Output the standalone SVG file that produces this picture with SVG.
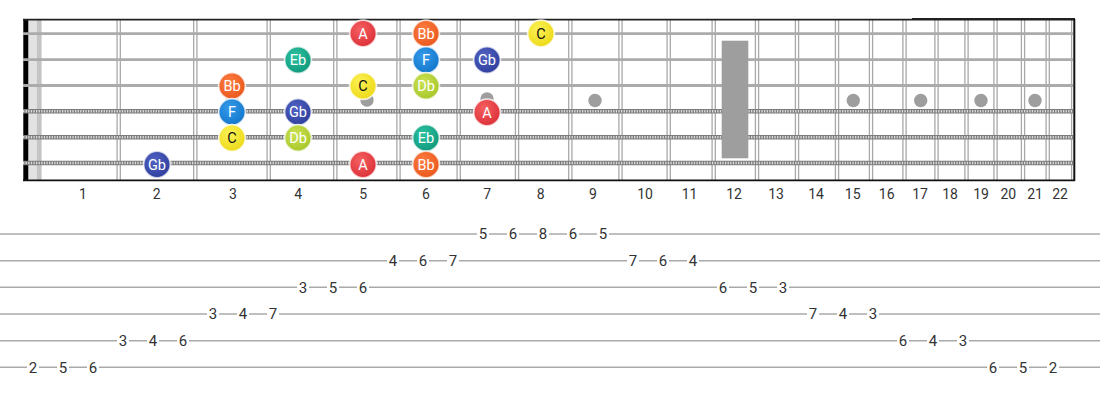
<svg xmlns="http://www.w3.org/2000/svg" width="1100" height="400" viewBox="0 0 1100 400">
<style>
.fw{stroke:#a8a8a8;stroke-width:1.3}
.ps{stroke:#ababab;stroke-width:2.8}
.w1{stroke:#7c7c7c;stroke-width:4.4}
.w2{stroke:#dcdcdc;stroke-width:2.4;stroke-dasharray:1.3 1.3}
.dot{fill:#9e9e9e}
.fn{font-family:Roboto,"Liberation Sans",sans-serif;font-size:14px;fill:#333;text-anchor:middle}
.nt{font-family:Roboto,"Liberation Sans",sans-serif;font-size:14.5px;fill:#fff;text-anchor:middle}
.nt.dk{fill:#111}
.nc{stroke:#fff;stroke-opacity:0.75;stroke-width:1.8}
.tl{stroke:#aaa;stroke-width:1.5}
.tb{fill:#fff}
.tn{font-family:Roboto,"Liberation Sans",sans-serif;font-size:15px;fill:#333;text-anchor:middle}
</style>
<defs>
<radialGradient id="gA" cx="0.4" cy="0.35" r="0.7"><stop offset="0" stop-color="#f56060"/><stop offset="1" stop-color="#db2e37"/></radialGradient>
<radialGradient id="gBb" cx="0.4" cy="0.35" r="0.7"><stop offset="0" stop-color="#fc7d40"/><stop offset="1" stop-color="#e9561c"/></radialGradient>
<radialGradient id="gC" cx="0.4" cy="0.35" r="0.7"><stop offset="0" stop-color="#fcf256"/><stop offset="1" stop-color="#ecd814"/></radialGradient>
<radialGradient id="gDb" cx="0.4" cy="0.35" r="0.7"><stop offset="0" stop-color="#cbe251"/><stop offset="1" stop-color="#a6c62a"/></radialGradient>
<radialGradient id="gEb" cx="0.4" cy="0.35" r="0.7"><stop offset="0" stop-color="#2cc2a0"/><stop offset="1" stop-color="#0f977b"/></radialGradient>
<radialGradient id="gF" cx="0.4" cy="0.35" r="0.7"><stop offset="0" stop-color="#359aea"/><stop offset="1" stop-color="#1176ca"/></radialGradient>
<radialGradient id="gGb" cx="0.4" cy="0.35" r="0.7"><stop offset="0" stop-color="#5163c3"/><stop offset="1" stop-color="#2e3d9c"/></radialGradient>
</defs>
<rect width="1100" height="400" fill="#fff"/>
<g id="fretboard">
<rect x="28.3" y="20" width="8.5" height="160" fill="#e2e2e2"/>
<rect x="36.8" y="20" width="4.8" height="160" fill="#c4c4c4"/>
<g id="frets">
<line class="fw" x1="117.1" y1="20" x2="117.1" y2="180"/><line class="fw" x1="120.3" y1="20" x2="120.3" y2="180"/>
<line class="fw" x1="193.7" y1="20" x2="193.7" y2="180"/><line class="fw" x1="196.9" y1="20" x2="196.9" y2="180"/>
<line class="fw" x1="267.1" y1="20" x2="267.1" y2="180"/><line class="fw" x1="270.3" y1="20" x2="270.3" y2="180"/>
<line class="fw" x1="333.7" y1="20" x2="333.7" y2="180"/><line class="fw" x1="336.9" y1="20" x2="336.9" y2="180"/>
<line class="fw" x1="396.9" y1="20" x2="396.9" y2="180"/><line class="fw" x1="400.1" y1="20" x2="400.1" y2="180"/>
<line class="fw" x1="457.1" y1="20" x2="457.1" y2="180"/><line class="fw" x1="460.3" y1="20" x2="460.3" y2="180"/>
<line class="fw" x1="515.4" y1="20" x2="515.4" y2="180"/><line class="fw" x1="518.6" y1="20" x2="518.6" y2="180"/>
<line class="fw" x1="568.7" y1="20" x2="568.7" y2="180"/><line class="fw" x1="571.9" y1="20" x2="571.9" y2="180"/>
<line class="fw" x1="618.9" y1="20" x2="618.9" y2="180"/><line class="fw" x1="622.1" y1="20" x2="622.1" y2="180"/>
<line class="fw" x1="667.1" y1="20" x2="667.1" y2="180"/><line class="fw" x1="670.3" y1="20" x2="670.3" y2="180"/>
<line class="fw" x1="712.1" y1="20" x2="712.1" y2="180"/><line class="fw" x1="715.3" y1="20" x2="715.3" y2="180"/>
<line class="fw" x1="755.4" y1="20" x2="755.4" y2="180"/><line class="fw" x1="758.6" y1="20" x2="758.6" y2="180"/>
<line class="fw" x1="795.4" y1="20" x2="795.4" y2="180"/><line class="fw" x1="798.6" y1="20" x2="798.6" y2="180"/>
<line class="fw" x1="835.4" y1="20" x2="835.4" y2="180"/><line class="fw" x1="838.6" y1="20" x2="838.6" y2="180"/>
<line class="fw" x1="869.4" y1="20" x2="869.4" y2="180"/><line class="fw" x1="872.6" y1="20" x2="872.6" y2="180"/>
<line class="fw" x1="902.9" y1="20" x2="902.9" y2="180"/><line class="fw" x1="906.1" y1="20" x2="906.1" y2="180"/>
<line class="fw" x1="934.9" y1="20" x2="934.9" y2="180"/><line class="fw" x1="938.1" y1="20" x2="938.1" y2="180"/>
<line class="fw" x1="964.9" y1="20" x2="964.9" y2="180"/><line class="fw" x1="968.1" y1="20" x2="968.1" y2="180"/>
<line class="fw" x1="993.9" y1="20" x2="993.9" y2="180"/><line class="fw" x1="997.1" y1="20" x2="997.1" y2="180"/>
<line class="fw" x1="1021.4" y1="20" x2="1021.4" y2="180"/><line class="fw" x1="1024.6" y1="20" x2="1024.6" y2="180"/>
<line class="fw" x1="1046.1" y1="20" x2="1046.1" y2="180"/><line class="fw" x1="1049.3" y1="20" x2="1049.3" y2="180"/>
<line class="fw" x1="1071.6" y1="20" x2="1071.6" y2="180"/>
</g>
<rect x="23.3" y="19" width="5" height="162" fill="#000"/>
<g id="strings">
<line class="ps" x1="23" y1="33.7" x2="1073" y2="33.7"/>
<line class="ps" x1="23" y1="59.6" x2="1073" y2="59.6"/>
<line class="ps" x1="23" y1="85.5" x2="1073" y2="85.5"/>
<line class="w1" x1="23" y1="111.3" x2="1073" y2="111.3"/><line class="w2" x1="23" y1="111.3" x2="1073" y2="111.3"/>
<line class="w1" x1="23" y1="137.2" x2="1073" y2="137.2"/><line class="w2" x1="23" y1="137.2" x2="1073" y2="137.2"/>
<line class="w1" x1="23" y1="163" x2="1073" y2="163"/><line class="w2" x1="23" y1="163" x2="1073" y2="163"/>
</g>
<line x1="23" y1="19.6" x2="1075" y2="19.6" stroke="#222" stroke-width="1.6"/>
<line x1="912" y1="18.6" x2="1075" y2="18.6" stroke="#111" stroke-width="1"/>
<line x1="23" y1="180.3" x2="1075" y2="180.3" stroke="#111" stroke-width="1.7"/>
<line x1="1074.3" y1="19" x2="1074.3" y2="181" stroke="#111" stroke-width="2"/>
<g id="inlays">
<circle class="dot" cx="232" cy="100" r="6.7"/>
<circle class="dot" cx="367" cy="100" r="6.7"/>
<circle class="dot" cx="487" cy="99" r="6.7"/>
<circle class="dot" cx="595" cy="100.5" r="6.7"/>
<circle class="dot" cx="853.3" cy="100.5" r="6.7"/>
<circle class="dot" cx="920.7" cy="100.5" r="6.7"/>
<circle class="dot" cx="981" cy="100.5" r="6.7"/>
<circle class="dot" cx="1035" cy="100.5" r="6.7"/>
<rect class="dot" x="721.7" y="40.7" width="26.6" height="117.6"/>
</g>
<g id="fret-numbers">
<text class="fn" x="83" y="198.5">1</text>
<text class="fn" x="156.7" y="198.5">2</text>
<text class="fn" x="233" y="198.5">3</text>
<text class="fn" x="298.3" y="198.5">4</text>
<text class="fn" x="363.3" y="198.5">5</text>
<text class="fn" x="426" y="198.5">6</text>
<text class="fn" x="487.3" y="198.5">7</text>
<text class="fn" x="540.7" y="198.5">8</text>
<text class="fn" x="593" y="198.5">9</text>
<text class="fn" x="645" y="198.5">10</text>
<text class="fn" x="689.5" y="198.5">11</text>
<text class="fn" x="734" y="198.5">12</text>
<text class="fn" x="776" y="198.5">13</text>
<text class="fn" x="816" y="198.5">14</text>
<text class="fn" x="852.7" y="198.5">15</text>
<text class="fn" x="886.7" y="198.5">16</text>
<text class="fn" x="920" y="198.5">17</text>
<text class="fn" x="950" y="198.5">18</text>
<text class="fn" x="981" y="198.5">19</text>
<text class="fn" x="1008.3" y="198.5">20</text>
<text class="fn" x="1035" y="198.5">21</text>
<text class="fn" x="1060" y="198.5">22</text>
</g>
</g>
<g id="notes">
<g id="n-gb-2-6"><circle class="nc" cx="157" cy="164.5" r="13.4" fill="url(#gGb)"/><text class="nt" x="157" y="169.6">Gb</text></g>
<g id="n-bb-3-3"><circle class="nc" cx="232" cy="86" r="13.4" fill="url(#gBb)"/><text class="nt" x="232" y="91.1">Bb</text></g>
<g id="n-f-3-4"><circle class="nc" cx="232" cy="112" r="13.4" fill="url(#gF)"/><text class="nt" x="232" y="117.1">F</text></g>
<g id="n-c-3-5"><circle class="nc" cx="232" cy="138" r="13.4" fill="url(#gC)"/><text class="nt dk" x="232" y="143.1">C</text></g>
<g id="n-eb-4-2"><circle class="nc" cx="298" cy="60" r="13.4" fill="url(#gEb)"/><text class="nt" x="298" y="65.1">Eb</text></g>
<g id="n-gb-4-4"><circle class="nc" cx="298" cy="112" r="13.4" fill="url(#gGb)"/><text class="nt" x="298" y="117.1">Gb</text></g>
<g id="n-db-4-5"><circle class="nc" cx="298" cy="138" r="13.4" fill="url(#gDb)"/><text class="nt" x="298" y="143.1">Db</text></g>
<g id="n-a-5-1"><circle class="nc" cx="363" cy="33.5" r="13.4" fill="url(#gA)"/><text class="nt" x="363" y="38.6">A</text></g>
<g id="n-c-5-3"><circle class="nc" cx="363" cy="86" r="13.4" fill="url(#gC)"/><text class="nt dk" x="363" y="91.1">C</text></g>
<g id="n-a-5-6"><circle class="nc" cx="363" cy="164.5" r="13.4" fill="url(#gA)"/><text class="nt" x="363" y="169.6">A</text></g>
<g id="n-bb-6-1"><circle class="nc" cx="426" cy="33.5" r="13.4" fill="url(#gBb)"/><text class="nt" x="426" y="38.6">Bb</text></g>
<g id="n-f-6-2"><circle class="nc" cx="426" cy="60" r="13.4" fill="url(#gF)"/><text class="nt" x="426" y="65.1">F</text></g>
<g id="n-db-6-3"><circle class="nc" cx="426" cy="86" r="13.4" fill="url(#gDb)"/><text class="nt" x="426" y="91.1">Db</text></g>
<g id="n-eb-6-5"><circle class="nc" cx="426" cy="138" r="13.4" fill="url(#gEb)"/><text class="nt" x="426" y="143.1">Eb</text></g>
<g id="n-bb-6-6"><circle class="nc" cx="426" cy="164.5" r="13.4" fill="url(#gBb)"/><text class="nt" x="426" y="169.6">Bb</text></g>
<g id="n-gb-7-2"><circle class="nc" cx="487" cy="60" r="13.4" fill="url(#gGb)"/><text class="nt" x="487" y="65.1">Gb</text></g>
<g id="n-a-7-4"><circle class="nc" cx="487" cy="112.5" r="13.4" fill="url(#gA)"/><text class="nt" x="487" y="117.6">A</text></g>
<g id="n-c-8-1"><circle class="nc" cx="541" cy="33.5" r="13.4" fill="url(#gC)"/><text class="nt dk" x="541" y="38.6">C</text></g>
</g>
<g id="tab">
<line class="tl" x1="0" y1="234" x2="1100" y2="234"/>
<line class="tl" x1="0" y1="260.7" x2="1100" y2="260.7"/>
<line class="tl" x1="0" y1="287.3" x2="1100" y2="287.3"/>
<line class="tl" x1="0" y1="314" x2="1100" y2="314"/>
<line class="tl" x1="0" y1="340.7" x2="1100" y2="340.7"/>
<line class="tl" x1="0" y1="367.3" x2="1100" y2="367.3"/>
<g id="tab-r1">
<rect class="tb" x="477" y="227" width="12" height="14"/><text class="tn" x="483" y="239.3">5</text>
<rect class="tb" x="507" y="227" width="12" height="14"/><text class="tn" x="513" y="239.3">6</text>
<rect class="tb" x="537" y="227" width="12" height="14"/><text class="tn" x="543" y="239.3">8</text>
<rect class="tb" x="567" y="227" width="12" height="14"/><text class="tn" x="573" y="239.3">6</text>
<rect class="tb" x="597" y="227" width="12" height="14"/><text class="tn" x="603" y="239.3">5</text>
</g>
<g id="tab-r2">
<rect class="tb" x="387" y="253.7" width="12" height="14"/><text class="tn" x="393" y="266">4</text>
<rect class="tb" x="417" y="253.7" width="12" height="14"/><text class="tn" x="423" y="266">6</text>
<rect class="tb" x="447" y="253.7" width="12" height="14"/><text class="tn" x="453" y="266">7</text>
<rect class="tb" x="627" y="253.7" width="12" height="14"/><text class="tn" x="633" y="266">7</text>
<rect class="tb" x="657" y="253.7" width="12" height="14"/><text class="tn" x="663" y="266">6</text>
<rect class="tb" x="687" y="253.7" width="12" height="14"/><text class="tn" x="693" y="266">4</text>
</g>
<g id="tab-r3">
<rect class="tb" x="297" y="280.3" width="12" height="14"/><text class="tn" x="303" y="292.6">3</text>
<rect class="tb" x="327" y="280.3" width="12" height="14"/><text class="tn" x="333" y="292.6">5</text>
<rect class="tb" x="357" y="280.3" width="12" height="14"/><text class="tn" x="363" y="292.6">6</text>
<rect class="tb" x="717" y="280.3" width="12" height="14"/><text class="tn" x="723" y="292.6">6</text>
<rect class="tb" x="747" y="280.3" width="12" height="14"/><text class="tn" x="753" y="292.6">5</text>
<rect class="tb" x="777" y="280.3" width="12" height="14"/><text class="tn" x="783" y="292.6">3</text>
</g>
<g id="tab-r4">
<rect class="tb" x="207" y="307" width="12" height="14"/><text class="tn" x="213" y="319.3">3</text>
<rect class="tb" x="237" y="307" width="12" height="14"/><text class="tn" x="243" y="319.3">4</text>
<rect class="tb" x="267" y="307" width="12" height="14"/><text class="tn" x="273" y="319.3">7</text>
<rect class="tb" x="807" y="307" width="12" height="14"/><text class="tn" x="813" y="319.3">7</text>
<rect class="tb" x="837" y="307" width="12" height="14"/><text class="tn" x="843" y="319.3">4</text>
<rect class="tb" x="867" y="307" width="12" height="14"/><text class="tn" x="873" y="319.3">3</text>
</g>
<g id="tab-r5">
<rect class="tb" x="117" y="333.7" width="12" height="14"/><text class="tn" x="123" y="346">3</text>
<rect class="tb" x="147" y="333.7" width="12" height="14"/><text class="tn" x="153" y="346">4</text>
<rect class="tb" x="177" y="333.7" width="12" height="14"/><text class="tn" x="183" y="346">6</text>
<rect class="tb" x="897" y="333.7" width="12" height="14"/><text class="tn" x="903" y="346">6</text>
<rect class="tb" x="927" y="333.7" width="12" height="14"/><text class="tn" x="933" y="346">4</text>
<rect class="tb" x="957" y="333.7" width="12" height="14"/><text class="tn" x="963" y="346">3</text>
</g>
<g id="tab-r6">
<rect class="tb" x="27" y="360.3" width="12" height="14"/><text class="tn" x="33" y="372.6">2</text>
<rect class="tb" x="57" y="360.3" width="12" height="14"/><text class="tn" x="63" y="372.6">5</text>
<rect class="tb" x="87" y="360.3" width="12" height="14"/><text class="tn" x="93" y="372.6">6</text>
<rect class="tb" x="987" y="360.3" width="12" height="14"/><text class="tn" x="993" y="372.6">6</text>
<rect class="tb" x="1017" y="360.3" width="12" height="14"/><text class="tn" x="1023" y="372.6">5</text>
<rect class="tb" x="1047" y="360.3" width="12" height="14"/><text class="tn" x="1053" y="372.6">2</text>
</g>
</g>
</svg>
